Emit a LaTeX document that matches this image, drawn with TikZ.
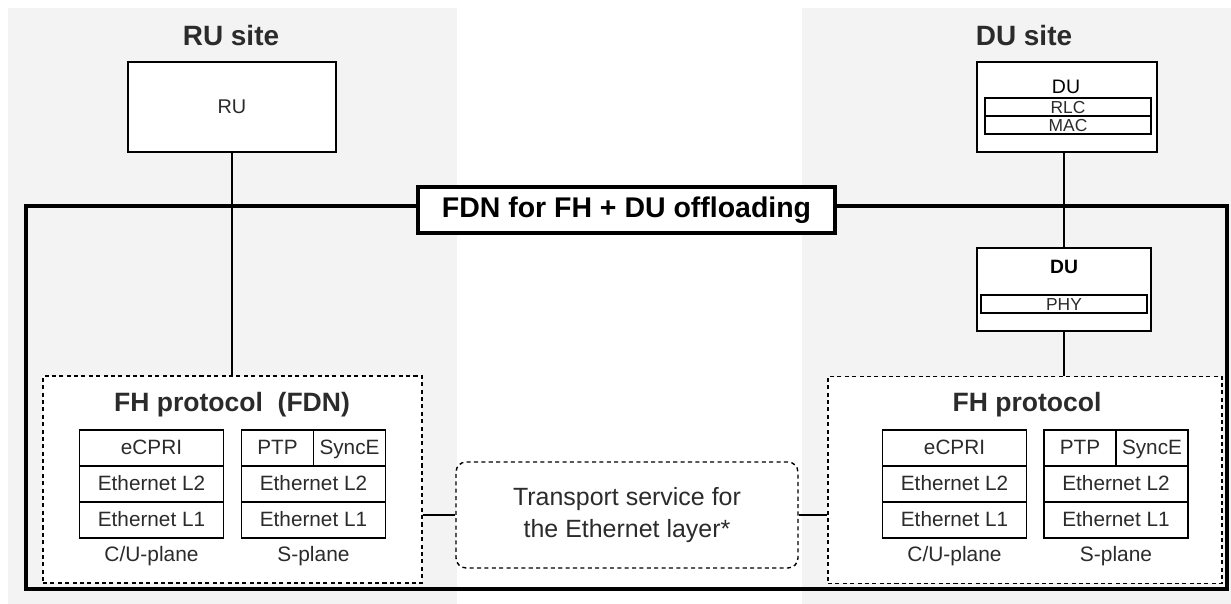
\documentclass[tikz,border=0pt]{standalone}
\usepackage{fontspec}
\setmainfont{Liberation Sans}
\usetikzlibrary{positioning}
\definecolor{sitegray}{HTML}{F3F3F3}
\definecolor{txtgray}{HTML}{2B2B2B}
\tikzset{
  sitelbl/.style={font=\bfseries\fontsize{15.9}{19}\selectfont,text=txtgray},
  unitbox/.style={draw,line width=0.9pt,fill=white,inner sep=0pt},
  layerbar/.style={draw,line width=0.8pt,minimum width=3.32cm,minimum height=0.36cm,inner sep=0pt,outer sep=0pt,text height=1.5ex,text depth=0.2ex,font=\fontsize{9.9}{11}\selectfont,text=txtgray},
  fhbox/.style={draw,dashed,dash pattern=on 2.3pt off 1.9pt,line width=0.8pt,fill=white,minimum height=4.14cm},
  fhlbl/.style={font=\bfseries\fontsize{15.1}{18}\selectfont,text=txtgray},
  cell/.style={draw,line width=0.8pt,minimum width=2.88cm,minimum height=0.72cm,inner sep=0pt,outer sep=0pt,text height=1.6ex,text depth=0.3ex,font=\fontsize{11.8}{14}\selectfont,text=txtgray},
  halfcell/.style={cell,minimum width=1.44cm},
  planelbl/.style={font=\fontsize{11.9}{14}\selectfont,text=txtgray},
  link/.style={line width=0.8pt}
}
\begin{document}
\begin{tikzpicture}[x=0.02cm,y=-0.02cm]
\useasboundingbox (0,0) rectangle (1231,604);
% site backgrounds
\fill[sitegray] (8,8) rectangle (457,604);
\fill[sitegray] (802,8) rectangle (1231,604);
\node[sitelbl] (rusite) at (231,36) {RU site};
\node[sitelbl] (dusite) at (1024,36) {DU site};

% big FDN frame
\draw[line width=2.8pt] (26,206) rectangle (1227,589);
\node[draw,line width=2.3pt,fill=white,minimum width=8.34cm,minimum height=0.92cm,font=\bfseries\fontsize{16.2}{19}\selectfont] (fdn) at (626.5,210) {FDN for FH + DU offloading};

% RU
\node[unitbox,minimum width=4.16cm,minimum height=1.8cm,font=\fontsize{11.3}{13}\selectfont,text=txtgray] (ru) at (232,107) {RU};

% DU (upper)
\node[unitbox,minimum width=3.6cm,minimum height=1.8cm] (du) at (1067,107) {};
\node[font=\fontsize{11.1}{13}\selectfont] (dulbl) at (1066,87) {DU};
\node[layerbar] (rlc) at (1068,107) {RLC};
\node[layerbar,below=0pt of rlc] (mac) {MAC};

% DU (offloaded part)
\node[unitbox,minimum width=3.48cm,minimum height=1.66cm] (dutwo) at (1064,289.5) {};
\node[font=\bfseries\fontsize{11}{13}\selectfont] (dutwolbl) at (1064,267) {DU};
\node[layerbar] (phy) at (1064,304) {PHY};

% FH protocol boxes
\node[fhbox,minimum width=7.58cm] (fhl) at (232.5,479.5) {};
\node[fhbox,minimum width=7.88cm] (fhr) at (1025,480) {};
\node[fhlbl] (fhllbl) at (232,405) {FH protocol\ \ (FDN)};
\node[fhlbl] (fhrlbl) at (1027,405) {FH protocol};

% left stacks
\node[cell] (lecpri) at (151.5,448) {eCPRI};
\node[cell,below=0pt of lecpri] (lcutwo) {Ethernet L2};
\node[cell,below=0pt of lcutwo] (lcuone) {Ethernet L1};
\node[planelbl,below=1pt of lcuone] (lcu) {C/U-plane};
\node[halfcell] (lptp) at (277.5,448) {PTP};
\node[halfcell,right=0pt of lptp] (lsynce) {SyncE};
\node[cell,below=0pt of lptp.south east] (lstwo) {Ethernet L2};
\node[cell,below=0pt of lstwo] (lsone) {Ethernet L1};
\node[planelbl,below=1pt of lsone] (ls) {S-plane};

% right stacks
\node[cell] (recpri) at (954.5,448) {eCPRI};
\node[cell,below=0pt of recpri] (rcutwo) {Ethernet L2};
\node[cell,below=0pt of rcutwo] (rcuone) {Ethernet L1};
\node[planelbl,below=1pt of rcuone] (rcu) {C/U-plane};
\node[halfcell] (rptp) at (1080,448) {PTP};
\node[halfcell,right=0pt of rptp] (rsynce) {SyncE};
\node[cell,below=0pt of rptp.south east] (rstwo) {Ethernet L2};
\node[cell,below=0pt of rstwo] (rsone) {Ethernet L1};
\node[planelbl,below=1pt of rsone] (rs) {S-plane};

% transport service
\node[draw,dashed,dash pattern=on 2.3pt off 1.9pt,line width=0.8pt,rounded corners=5.7pt,fill=white,minimum width=6.84cm,minimum height=2.12cm,align=center,font=\fontsize{14.2}{18.7}\selectfont,text=txtgray] (ts) at (627,515) {Transport service for\\the Ethernet layer*};

% connectors
\draw[link] (ru.south) -- (ru.south |- fhl.north);
\draw[link] (du.south -| dutwo.north) -- (dutwo.north);
\draw[link] (dutwo.south) -- (dutwo.south |- fhr.north);
\draw[link] (ts.west -| fhl.east) -- (ts.west);
\draw[link] (ts.east) -- (ts.east -| fhr.west);
\end{tikzpicture}
\end{document}
